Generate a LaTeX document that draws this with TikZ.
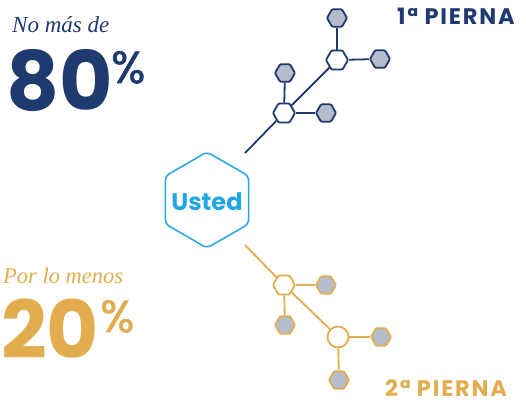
\documentclass[tikz,border=0pt]{standalone}
\usepackage{fontspec}
\usetikzlibrary{shapes.geometric}
\newfontfamily\pop{Poppins}
\newfontfamily\popm[FakeBold=1.2]{Poppins}
\newfontfamily\popw[LetterSpace=8]{Poppins}
\newfontfamily\ser{Liberation Serif}
\definecolor{navy}{HTML}{1E3A6F}
\definecolor{gold}{HTML}{E1AD4F}
\definecolor{hexgray}{HTML}{B5BCCB}
\definecolor{cyanu}{HTML}{22A8E0}
\tikzset{
  smallhex/.style={regular polygon, regular polygon sides=6, minimum size=20pt, inner sep=0pt, fill=hexgray, line width=1.8pt, rounded corners=1pt},
  bighex/.style={regular polygon, regular polygon sides=6, minimum size=22pt, inner sep=0pt, fill=white, line width=1.8pt, rounded corners=1pt},
  bigcirc/.style={circle, minimum size=21pt, inner sep=0pt, fill=white, line width=1.8pt},
  navyl/.style={draw=navy, line width=1.8pt},
  goldl/.style={draw=gold, line width=1.8pt},
  lbl/.style={inner sep=0pt, anchor=base west},
}
\begin{document}
\begin{tikzpicture}[x=1pt,y=-1pt]
\useasboundingbox (0,0) rectangle (526,404);
% texts
\node[lbl, text=navy] (t1) at (12,33) {\ser\itshape\fontsize{23}{23}\selectfont No más de};
\node[lbl, text=navy] (t2) at (6,110) {\pop\bfseries\fontsize{82}{82}\selectfont 80};
\node[lbl, text=navy] (t3) at (111,83) {\popm\fontsize{45}{45}\selectfont \%};
\node[lbl, text=gold] (t4) at (3,283) {\ser\itshape\fontsize{22.5}{22.5}\selectfont Por lo menos};
\node[lbl, text=gold] (t5) at (1,358) {\pop\bfseries\fontsize{80}{80}\selectfont 20};
\node[lbl, text=gold] (t6) at (100,332) {\popm\fontsize{45}{45}\selectfont \%};
\node[lbl, text=navy] (t7) at (397,25) {\popw\bfseries\fontsize{22.5}{22.5}\selectfont 1ª PIERNA};
\node[lbl, text=gold] (t8) at (385,396) {\popw\bfseries\fontsize{22.5}{22.5}\selectfont 2ª PIERNA};
% Usted
\node[regular polygon, regular polygon sides=6, regular polygon rotate=30, minimum size=96pt, inner sep=0pt, draw=cyanu, line width=1.5pt, rounded corners=4pt] (u) at (207,200) {};
\node[text=cyanu, inner sep=0pt] (ut) at (207,202) {\pop\bfseries\fontsize{24}{24}\selectfont Usted};
% top tree
\coordinate (a0) at (245,153);
\node[bighex, navyl] (a1) at (284,113) {};
\node[bighex, navyl] (a2) at (337,60) {};
\node[smallhex, navyl] (a3) at (285,73) {};
\node[smallhex, navyl] (a4) at (326,113) {};
\node[smallhex, navyl] (a5) at (337,18) {};
\node[smallhex, navyl] (a6) at (380,59) {};
\draw[navyl] (a0) -- (a1);
\draw[navyl] (a1) -- (a2);
\draw[navyl] (a1) -- (a3);
\draw[navyl] (a1) -- (a4);
\draw[navyl] (a2) -- (a5);
\draw[navyl] (a2) -- (a6);
% bottom tree
\coordinate (b0) at (245,245);
\node[bighex, goldl] (b1) at (284,285) {};
\node[bigcirc, goldl] (b2) at (338,337) {};
\node[smallhex, goldl] (b3) at (326,285) {};
\node[smallhex, goldl] (b4) at (285,325) {};
\node[smallhex, goldl] (b5) at (381,337) {};
\node[smallhex, goldl] (b6) at (339,380) {};
\draw[goldl] (b0) -- (b1);
\draw[goldl] (b1) -- (b2);
\draw[goldl] (b1) -- (b3);
\draw[goldl] (b1) -- (b4);
\draw[goldl] (b2) -- (b5);
\draw[goldl] (b2) -- (b6);
\end{tikzpicture}
\end{document}
